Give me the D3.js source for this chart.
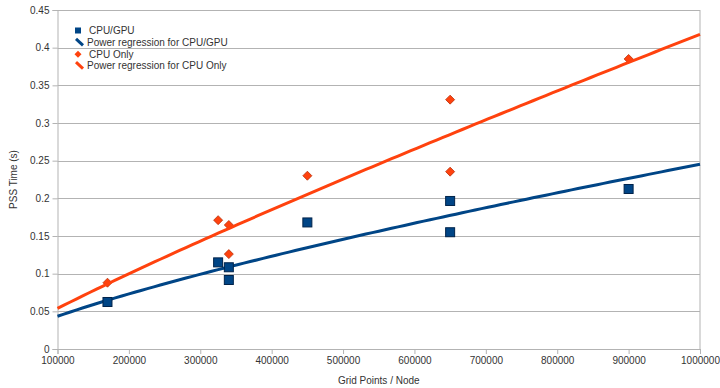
<!DOCTYPE html>
<html><head><meta charset="utf-8">
<script src="https://cdn.jsdelivr.net/npm/d3@7"></script>
<style>body{margin:0;background:#fff}svg{display:block}text{font-family:"Liberation Sans",Arial,sans-serif;fill:#333}</style>
</head><body><svg id="c" width="720" height="388"></svg>
<script>
const gpuX = [170000, 325000, 340000, 340000, 450000, 650000, 650000, 900000];
const gpuY = [0.0624, 0.115, 0.1085, 0.0916, 0.168, 0.1965, 0.155, 0.2124];
const cpuX = [170000, 325000, 340000, 340000, 450000, 650000, 650000, 900000];
const cpuY = [0.088, 0.171, 0.1646, 0.126, 0.23, 0.331, 0.2354, 0.385];
const xTicks = [100000,200000,300000,400000,500000,600000,700000,800000,900000,1000000];
const yTicks = [0,0.05,0.1,0.15,0.2,0.25,0.3,0.35,0.4,0.45];
const legendLabels = ["CPU/GPU","Power regression for CPU/GPU","CPU Only","Power regression for CPU Only"];

const BLUE="#004586", ORANGE="#ff420e";
const svg=d3.select("#c");
const L=57.5,R=700,T=10,B=349;
const x=d3.scaleLinear().domain([100000,1000000]).range([L,R]);
const y=d3.scaleLinear().domain([0,0.45]).range([B,T]);

// grid
svg.append("g").selectAll("line").data(yTicks.slice(1)).join("line")
 .attr("x1",L).attr("x2",R).attr("y1",d=>Math.round(y(d))+0.5).attr("y2",d=>Math.round(y(d))+0.5)
 .attr("stroke","#b3b3b3").attr("stroke-width",1);
svg.append("line").attr("x1",R).attr("x2",R).attr("y1",T).attr("y2",B).attr("stroke","#b3b3b3");

// axes
const gy=svg.append("g").attr("transform",`translate(${L},0)`)
 .call(d3.axisLeft(y).tickValues(yTicks).tickFormat(d=>String(+d.toFixed(2))).tickSize(5).tickPadding(3));
const gx=svg.append("g").attr("transform",`translate(0,${B})`)
 .call(d3.axisBottom(x).tickValues(xTicks).tickFormat(d=>String(d)).tickSize(5).tickPadding(3));
[gx,gy].forEach(g=>{g.select(".domain").attr("stroke","#b3b3b3");g.selectAll(".tick line").attr("stroke","#b3b3b3");
 g.selectAll("text").attr("font-size",10).attr("fill","#333").attr("font-family","'Liberation Sans',Arial,sans-serif");});

// titles
svg.append("text").attr("x",(L+R)/2).attr("y",384).attr("text-anchor","middle").attr("font-size",10).text("Grid Points / Node");
svg.append("text").attr("transform",`translate(17,${(T+B)/2}) rotate(-90)`).attr("text-anchor","middle").attr("font-size",10).text("PSS Time (s)");

// power regression
function powerFit(xs,ys){
 const lx=xs.map(Math.log), ly=ys.map(Math.log);
 const mx=d3.mean(lx), my=d3.mean(ly);
 const b=d3.sum(lx.map((v,i)=>(v-mx)*(ly[i]-my)))/d3.sum(lx.map(v=>(v-mx)**2));
 const a=Math.exp(my-b*mx);
 return v=>a*Math.pow(v,b);
}
const samples=d3.range(0,101).map(i=>x.domain()[0]+i*(x.domain()[1]-x.domain()[0])/100);
const fg=powerFit(gpuX,gpuY), fc=powerFit(cpuX,cpuY);
const line=d3.line().x(d=>x(d[0])).y(d=>y(d[1]));

svg.append("path").attr("d",line(samples.map(s=>[s,fg(s)]))).attr("fill","none").attr("stroke",BLUE).attr("stroke-width",3);
svg.append("g").selectAll("rect").data(gpuX.map((v,i)=>[v,gpuY[i]])).join("rect")
 .attr("x",d=>x(d[0])-4.5).attr("y",d=>y(d[1])-4.5).attr("width",9).attr("height",9)
 .attr("fill",BLUE).attr("stroke","#00234a").attr("stroke-width",1);
svg.append("g").selectAll("path").data(cpuX.map((v,i)=>[v,cpuY[i]])).join("path")
 .attr("d",d=>{const cx=x(d[0]),cy=y(d[1]),r=4.5;return `M${cx},${cy-r}L${cx+r},${cy}L${cx},${cy+r}L${cx-r},${cy}Z`;})
 .attr("fill",ORANGE).attr("stroke","#b8300a").attr("stroke-width",0.8);
svg.append("path").attr("d",line(samples.map(s=>[s,fc(s)]))).attr("fill","none").attr("stroke",ORANGE).attr("stroke-width",3);

// legend
const lg=svg.append("g");
const ly0=[30.5,42.3,54.3,65.7];
lg.append("rect").attr("x",75).attr("y",ly0[0]-3).attr("width",6).attr("height",6).attr("fill",BLUE);
lg.append("line").attr("x1",76).attr("y1",ly0[1]-3.5).attr("x2",83).attr("y2",ly0[1]+3).attr("stroke",BLUE).attr("stroke-width",3);
lg.append("path").attr("d",`M78,${ly0[2]-3.5}L81.5,${ly0[2]}L78,${ly0[2]+3.5}L74.5,${ly0[2]}Z`).attr("fill",ORANGE);
lg.append("line").attr("x1",76).attr("y1",ly0[3]-3.5).attr("x2",83).attr("y2",ly0[3]+3).attr("stroke",ORANGE).attr("stroke-width",3);
lg.selectAll("text").data(legendLabels).join("text")
 .attr("x",(d,i)=>i%2===0?89:87).attr("y",(d,i)=>ly0[i]+3.5).attr("font-size",10).text(d=>d);
</script></body></html>
